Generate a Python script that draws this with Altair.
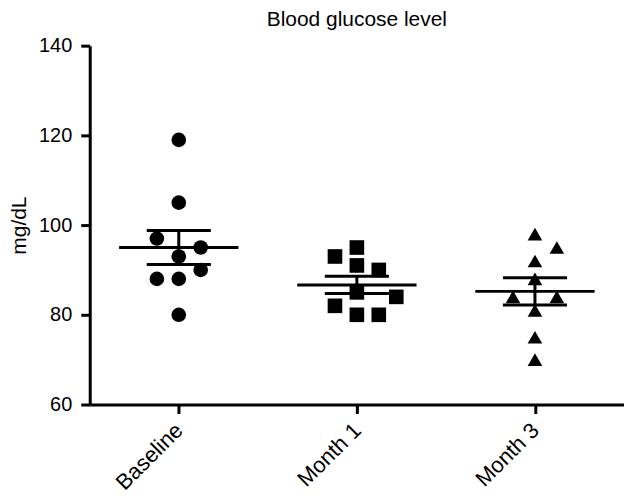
import altair as alt
import pandas as pd

groups = ["Baseline", "Month 1", "Month 3"]
shapes = ["circle", "square", "triangle-up"]

baseline_vals = [119, 105, 97, 95, 93, 90, 88, 88, 80]
baseline_cols = [0, 0, -1, 1, 0, 1, -1, 0, 0]
month1_vals = [95, 93, 91, 90, 85, 84, 82, 80, 80]
month1_cols = [0, -1, 0, 1, 0, 1.8, -1, 0, 1]
month3_vals = [98, 95, 92, 88, 84, 84, 81, 75, 70]
month3_cols = [0, 1, 0, 0, -1, 1, 0, 0, 0]

y_ticks = [60, 80, 100, 120, 140]

rows = []
for i, (vals, cols) in enumerate([(baseline_vals, baseline_cols),
                                  (month1_vals, month1_cols),
                                  (month3_vals, month3_cols)]):
    for v, c in zip(vals, cols):
        rows.append({"group": groups[i], "idx": i, "value": v, "col": c})
df = pd.DataFrame(rows)

FONT = "Liberation Sans"
xscale = alt.Scale(domain=[-0.5, 2.5], nice=False, zero=False)
yscale = alt.Scale(domain=[60, 140], nice=False, zero=False)
label_expr = "['Baseline','Month 1','Month 3'][datum.value]"

xaxis = alt.Axis(values=[0, 1, 2], labelExpr=label_expr, title=None,
                 labelAngle=-45, labelAlign="right", labelBaseline="middle",
                 labelPadding=13, labelFontSize=22)
yaxis = alt.Axis(values=y_ticks, title="mg/dL", titlePadding=9, labelPadding=9,
                 labelFontSize=20, titleFontSize=21)

base = alt.Chart(df)

points = base.transform_calculate(
    xpos="datum.idx + datum.col * 0.123"
).mark_point(filled=True, size=215, color="black", opacity=1).encode(
    x=alt.X("xpos:Q", scale=xscale, axis=xaxis),
    y=alt.Y("value:Q", scale=yscale, axis=yaxis),
    shape=alt.Shape("group:N", scale=alt.Scale(domain=groups, range=shapes), legend=None),
)

summary = base.transform_aggregate(
    mean="mean(value)", sem="stderr(value)", groupby=["group", "idx"]
).transform_calculate(
    lo="datum.mean - datum.sem",
    hi="datum.mean + datum.sem",
    ma="datum.idx - 0.335",
    mb="datum.idx + 0.335",
    ca="datum.idx - 0.18",
    cb="datum.idx + 0.18",
)

mean_line = summary.mark_rule(color="black", strokeWidth=3).encode(
    x=alt.X("ma:Q", scale=xscale, axis=xaxis), x2="mb:Q",
    y=alt.Y("mean:Q", scale=yscale, axis=yaxis),
)
cap_hi = summary.mark_rule(color="black", strokeWidth=3).encode(
    x=alt.X("ca:Q", scale=xscale, axis=xaxis), x2="cb:Q",
    y=alt.Y("hi:Q", scale=yscale, axis=yaxis),
)
cap_lo = summary.mark_rule(color="black", strokeWidth=3).encode(
    x=alt.X("ca:Q", scale=xscale, axis=xaxis), x2="cb:Q",
    y=alt.Y("lo:Q", scale=yscale, axis=yaxis),
)
stem = summary.mark_rule(color="black", strokeWidth=3).encode(
    x=alt.X("idx:Q", scale=xscale, axis=xaxis),
    y=alt.Y("lo:Q", scale=yscale, axis=yaxis), y2="hi:Q",
)

chart = alt.layer(points, mean_line, cap_hi, cap_lo, stem).properties(
    width=536, height=360,
    title=alt.TitleParams("Blood glucose level", font=FONT, fontSize=21,
                          fontWeight="normal", color="black", frame="group",
                          anchor="middle", offset=6),
    padding={"left": 0, "top": 0, "right": 0, "bottom": 0},
).configure_view(stroke=None).configure_axis(
    grid=False, domainColor="black", domainWidth=3, tickColor="black",
    tickWidth=3, tickSize=9, labelFont=FONT, labelColor="black",
    titleFont=FONT, titleFontWeight="normal", titleColor="black",
)

chart.save("out.html", embed_options={"renderer": "svg", "actions": False})
